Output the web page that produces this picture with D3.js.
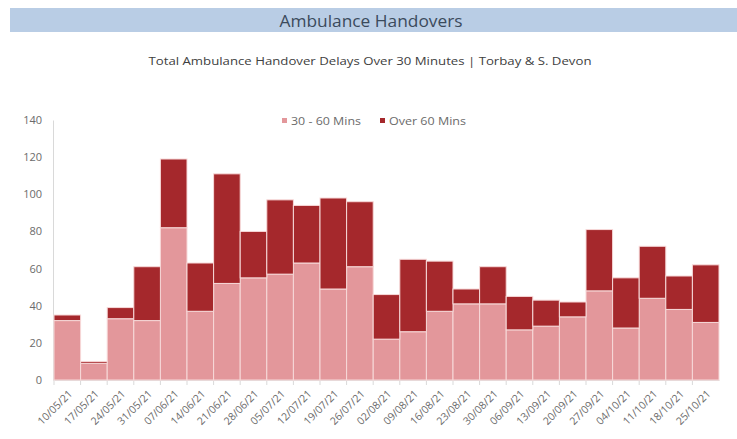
<!DOCTYPE html>
<html><head><meta charset="utf-8">
<script src="https://cdn.jsdelivr.net/npm/d3@7"></script>
<style>html,body{margin:0;padding:0;background:#fff;}svg{display:block;}</style>
</head><body>
<script>
const weeks = ["10/05/21","17/05/21","24/05/21","31/05/21","07/06/21","14/06/21","21/06/21","28/06/21","05/07/21","12/07/21","19/07/21","26/07/21","02/08/21","09/08/21","16/08/21","23/08/21","30/08/21","06/09/21","13/09/21","20/09/21","27/09/21","04/10/21","11/10/21","18/10/21","25/10/21"];
const mins30to60 = [32,9,33,32,82,37,52,55,57,63,49,61,22,26,37,41,41,27,29,34,48,28,44,38,31];
const over60 = [3,1,6,29,37,26,59,25,40,31,49,35,24,39,27,8,20,18,14,8,33,27,28,18,31];
const seriesNames = ["30 - 60 Mins","Over 60 Mins"];
const yTicks = [0,20,40,60,80,100,120,140];

const W = 737, H = 439;
const svg = d3.select("body").append("svg").attr("width", W).attr("height", H);
const font = "'Open Sans', 'DejaVu Sans', sans-serif";

// title band
svg.append("rect").attr("x",10).attr("y",8).attr("width",W-10).attr("height",24).attr("fill","#b9cde5");
svg.append("text").attr("x",371).attr("y",26.5).attr("text-anchor","middle")
  .attr("font-family",font).attr("font-size",16).attr("fill","#3b4a5c")
  .attr("textLength",183).attr("lengthAdjust","spacingAndGlyphs").text("Ambulance Handovers");
svg.append("text").attr("x",370).attr("y",64.5).attr("text-anchor","middle")
  .attr("font-family",font).attr("font-size",11).attr("fill","#404040")
  .attr("textLength",443).attr("lengthAdjust","spacingAndGlyphs")
  .text("Total Ambulance Handover Delays Over 30 Minutes | Torbay & S. Devon");

const x = d3.scaleBand().domain(weeks).range([54,719]).padding(0);
const y = d3.scaleLinear().domain([0,140]).range([380,120]);
const colors = ["#e3979b","#a5282c"];

const data = weeks.map((w,i)=>({week:w, a:mins30to60[i], b:over60[i]}));
const stack = d3.stack().keys(["a","b"])(data);

// axes
const yAxis = svg.append("g").attr("transform","translate(53,0)")
  .call(d3.axisLeft(y).tickValues(yTicks).tickSize(0).tickPadding(11));
yAxis.select(".domain").attr("stroke","#d9d9d9");
yAxis.selectAll("text").attr("font-family",font).attr("font-size",11).attr("fill","#6b6b6b");

const xAxis = svg.append("g").attr("transform","translate(0,380)")
  .call(d3.axisBottom(x).tickSize(0).tickPadding(0));
xAxis.select(".domain").attr("stroke","#d9d9d9");
xAxis.selectAll("text").attr("font-family",font).attr("font-size",10.5).attr("fill","#6b6b6b")
  .attr("text-anchor","end").attr("transform","translate(3,12) rotate(-45)").attr("dy","0.35em");
// boundary ticks
svg.append("g").selectAll("line").data(weeks).join("line")
  .attr("x1",d=>x(d)).attr("x2",d=>x(d)).attr("y1",380).attr("y2",385)
  .attr("stroke","#d9d9d9");

// bars
svg.append("g").selectAll("g").data(stack).join("g").attr("fill",(d,i)=>colors[i])
  .selectAll("rect").data(d=>d).join("rect")
  .attr("x",d=>x(d.data.week)).attr("width",x.bandwidth())
  .attr("y",d=>y(d[1])).attr("height",d=>y(d[0])-y(d[1]))
  .attr("stroke","#f7d9d9").attr("stroke-width",1);

// legend
const leg = svg.append("g");
const legX = [282,380];
const legLen = [70,77];
seriesNames.forEach((n,i)=>{
  leg.append("rect").attr("x",legX[i]).attr("y",118).attr("width",5).attr("height",5).attr("fill",colors[i]);
  leg.append("text").attr("x",legX[i]+9).attr("y",124.5).attr("font-family",font).attr("font-size",11.5)
    .attr("fill","#6b6b6b").attr("textLength",legLen[i]).attr("lengthAdjust","spacingAndGlyphs").text(n);
});
</script>
</body></html>
